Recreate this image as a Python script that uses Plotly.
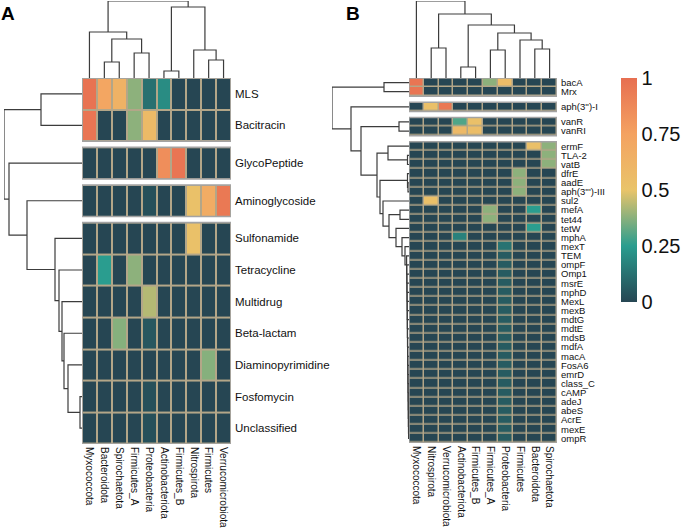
import plotly.graph_objects as go

W, H = 684, 532

# ---- data: panel A (antibiotic class x phylum) ----
a_cols = ["Myxococcota", "Bacteroidota", "Spirochaetota", "Firmicutes_A", "Proteobacteria",
          "Actinobacteriota", "Firmicutes_B", "Nitrospirota", "Firmicutes", "Verrucomicrobiota"]
a_rows = [["MLS", "Bacitracin"],
          ["GlycoPeptide"],
          ["Aminoglycoside"],
          ["Sulfonamide", "Tetracycline", "Multidrug", "Beta-lactam", "Diaminopyrimidine",
           "Fosfomycin", "Unclassified"]]
a_z1 = [[0.98, 0.72, 0.63, 0.38, 0.12, 0.20, 0, 0, 0, 0],
        [0.97, 0, 0, 0.38, 0.57, 0, 0, 0, 0, 0]]
a_z2 = [[0, 0, 0, 0, 0, 0.85, 0.97, 0, 0, 0]]
a_z3 = [[0, 0, 0, 0, 0.03, 0, 0, 0.52, 0.68, 0.95]]
a_z4 = [[0, 0, 0, 0, 0, 0, 0, 0.52, 0, 0],
        [0, 0.25, 0, 0.38, 0, 0, 0, 0, 0, 0],
        [0, 0, 0, 0, 0.43, 0, 0, 0, 0, 0],
        [0, 0, 0.37, 0, 0.05, 0, 0, 0, 0, 0],
        [0, 0, 0, 0, 0, 0, 0, 0, 0.37, 0],
        [0, 0, 0, 0, 0.03, 0, 0, 0, 0, 0],
        [0, 0, 0, 0, 0.03, 0, 0, 0, 0, 0]]
# dendrograms as merge lists (leaves 0..n-1, merge k -> node n+k), heights
a_col_left = [1, 3, 10, 0, 5, 8, 7, 14, 13]
a_col_right = [2, 4, 11, 12, 6, 9, 15, 16, 17]
a_col_height = [16, 25, 39, 46, 7, 18, 28, 71, 77]
a_row_left = [9, 8, 7, 6, 5, 4, 3, 2, 0, 19]
a_row_right = [10, 11, 12, 13, 14, 15, 16, 17, 1, 18]
a_row_height = [2, 14, 18, 20, 23, 27, 55, 73, 41, 78]

# ---- data: panel B (ARG x phylum) ----
b_cols = ["Myxococcota", "Nitrospirota", "Verrucomicrobiota", "Actinobacteriota", "Firmicutes_B",
          "Firmicutes_A", "Proteobacteria", "Firmicutes", "Bacteroidota", "Spirochaetota"]
b_rows = [["bacA", "Mrx"],
          ["aph(3'')-I"],
          ["vanR", "vanRI"],
          ["ermF", "TLA-2", "vatB", "dfrE", "aadE", "aph(3''')-III", "sul2", "mefA", "tet44",
           "tetW", "mphA", "mexT", "TEM", "ompF", "Omp1", "msrE", "mphD", "MexL", "mexB", "mdtG",
           "mdtE", "mdsB", "mdfA", "macA", "FosA6", "emrD", "class_C", "cAMP", "adeJ", "abeS",
           "AcrE", "mexE", "ompR"]]
b_z1 = [[0.97, 0, 0, 0, 0, 0.38, 0.56, 0, 0, 0],
        [0.97, 0, 0, 0, 0, 0, 0, 0, 0, 0]]
b_z2 = [[0, 0.53, 0.95, 0, 0, 0, 0, 0, 0, 0]]
b_z3 = [[0, 0, 0, 0.30, 0.53, 0, 0, 0, 0, 0],
        [0, 0, 0, 0.58, 0.55, 0, 0, 0, 0, 0]]
b_z4 = [[0, 0, 0, 0, 0, 0, 0, 0, 0.53, 0.38],
        [0, 0, 0, 0, 0, 0, 0, 0, 0, 0.38],
        [0, 0, 0, 0, 0, 0, 0, 0, 0, 0.38],
        [0, 0, 0, 0, 0, 0, 0, 0.38, 0, 0],
        [0, 0, 0, 0, 0, 0, 0, 0.38, 0, 0],
        [0, 0, 0, 0, 0, 0, 0, 0.38, 0, 0],
        [0, 0.53, 0, 0, 0, 0, 0, 0, 0, 0],
        [0, 0, 0, 0, 0, 0.38, 0, 0, 0.25, 0],
        [0, 0, 0, 0, 0, 0.38, 0, 0, 0, 0],
        [0, 0, 0, 0, 0, 0, 0, 0, 0.25, 0],
        [0, 0, 0, 0.17, 0, 0, 0, 0, 0, 0],
        [0, 0, 0, 0, 0, 0, 0.13, 0, 0, 0]] + \
       [[0, 0, 0, 0, 0, 0, 0.06, 0, 0, 0] for _ in range(21)]
b_col_left = [3, 5, 8, 1, 7, 11, 10, 13, 0]
b_col_right = [4, 6, 9, 2, 12, 14, 15, 16, 17]
b_col_height = [11, 28, 29, 30, 38, 45, 53, 64, 77]
b_row_left = [0, 3, 6, 5, 9, 8, 12,
              36, 35, 34, 33, 32, 31, 30, 29, 28, 27, 26, 25, 24, 23, 22, 21, 20, 19, 18, 17,
              16, 15, 14, 44, 11, 43, 41, 39, 2, 38]
b_row_right = [1, 4, 7, 40, 10, 42, 13,
               37, 45, 46, 47, 48, 49, 50, 51, 52, 53, 54, 55, 56, 57, 58, 59, 60, 61, 62, 63,
               64, 65, 66, 67, 68, 69, 70, 71, 72, 73]
b_row_height = [25, 10, 1.5, 21, 1, 1.5, 9,
                0.4, 0.5, 0.6, 0.7, 0.8, 0.9, 1.0, 1.1, 1.2, 1.3, 1.4, 1.5, 1.6, 1.7, 1.8, 1.9,
                2.0, 2.1, 2.2, 2.4,
                4, 7, 13, 20, 26, 29, 32, 48, 58, 77]

colorscale = [[0, "#264653"], [0.25, "#2a9d8f"], [0.5, "#e9c46a"], [0.75, "#f4a261"], [1, "#e76f51"]]
cell_line = "#b3a688"
slice_border = "#a3a3a3"
dendro_color = "#3c3c3c"


def fx(px):
    return px / W


def fy(px):
    return 1 - px / H


def dendro(leaf_pos, left, right, height):
    pos = list(leaf_pos)
    hgt = [0] * len(leaf_pos)
    p, h = [], []
    for l, r, z in zip(left, right, height):
        p += [pos[l], pos[l], pos[r], pos[r], None]
        h += [hgt[l], z, z, hgt[r], None]
        pos.append((pos[l] + pos[r]) / 2)
        hgt.append(z)
    return p, h


def slice_offsets(slices, gap):
    offs, n = [], 0
    for k, s in enumerate(slices):
        offs.append(n + k * gap)
        n += len(s)
    return offs


fig = go.Figure()
shapes = []
lay = {}


def panel(rows, cols, zs, ax, top, bottom, gap_px, xgap, colorbar=None):
    nrow = sum(len(s) for s in rows)
    row_px = (bottom - top - gap_px * (len(rows) - 1)) / nrow
    gap = gap_px / row_px
    offs = slice_offsets(rows, gap)
    centers, labels = [], []
    for k, (s, z, o) in enumerate(zip(rows, zs, offs)):
        last = k == len(rows) - 1
        fig.add_trace(go.Heatmap(
            z=z, x0=0, dx=1, y0=o, dy=1, xaxis="x" + ax[0], yaxis="y" + ax[0],
            colorscale=colorscale, zmin=0, zmax=1, xgap=xgap, ygap=xgap,
            showscale=bool(colorbar) and last, colorbar=colorbar if last else None,
            hoverinfo="skip"))
        centers += [o + i for i in range(len(s))]
        labels += s
        box = dict(type="rect", xref="x" + ax[0], yref="y" + ax[0], x0=-0.5, x1=len(cols) - 0.5,
                   y0=o - 0.5, y1=o + len(s) - 0.5)
        shapes.append(dict(box, fillcolor=cell_line, line_width=0, layer="below"))
        shapes.append(dict(box, line=dict(color=slice_border, width=1.5), layer="above"))
    yrange = [centers[-1] + 0.5, -0.5]
    return centers, labels, yrange


def hide(**kw):
    d = dict(visible=False, showgrid=False, zeroline=False, fixedrange=True, automargin=False)
    d.update(kw)
    return d


def build(rows, cols, zs, col_tree, row_tree, ax, hm_left, hm_right, top, bottom,
          dend_left, row_font, col_font, gap_px, xgap, colorbar=None):
    centers, labels, yrange = panel(rows, cols, zs, ax, top, bottom, gap_px, xgap, colorbar)
    hx, hy, cx, cy, rx, ry = ("x" + ax[0], "y" + ax[0], "x" + ax[1], "y" + ax[1], "x" + ax[2], "y" + ax[2])
    key = lambda a: a[0] + "axis" + a[1:]
    lay[key(hx)] = dict(domain=[fx(hm_left), fx(hm_right)], range=[-0.5, len(cols) - 0.5], anchor=hy,
                        tickvals=list(range(len(cols))), ticktext=cols, tickangle=90, ticks="",
                        showgrid=False, zeroline=False, showline=False, automargin=False,
                        tickfont=dict(size=col_font, color="#111"), ticklabelstandoff=2)
    lay[key(hy)] = dict(domain=[fy(bottom), fy(top)], range=yrange, anchor=hx, side="right",
                        tickvals=centers, ticktext=labels, ticks="", showgrid=False, zeroline=False,
                        automargin=False, tickfont=dict(size=row_font, color="#111"),
                        ticklabelstandoff=3)
    # column dendrogram
    p, h = dendro(range(len(cols)), *col_tree)
    fig.add_trace(go.Scatter(x=p, y=h, mode="lines", xaxis=cx, yaxis=cy, hoverinfo="skip",
                             line=dict(color=dendro_color, width=1.2)))
    lay[key(cx)] = hide(domain=[fx(hm_left), fx(hm_right)], range=[-0.5, len(cols) - 0.5], anchor=cy)
    lay[key(cy)] = hide(domain=[fy(top), fy(1)], range=[0, max(col_tree[2])], anchor=cx)
    # row dendrogram
    p, h = dendro(centers, *row_tree)
    fig.add_trace(go.Scatter(x=h, y=p, mode="lines", xaxis=rx, yaxis=ry, hoverinfo="skip",
                             line=dict(color=dendro_color, width=1.2)))
    lay[key(rx)] = hide(domain=[fx(dend_left), fx(hm_left)], range=[max(row_tree[2]), 0], anchor=ry)
    lay[key(ry)] = hide(domain=[fy(bottom), fy(top)], range=yrange, anchor=rx)


build(a_rows, a_cols, [a_z1, a_z2, a_z3, a_z4],
      (a_col_left, a_col_right, a_col_height), (a_row_left, a_row_right, a_row_height),
      ["", "2", "3"], 82, 231, 78, 444, 4, 11.5, 10, 6, 2)

cbar = dict(x=fx(621), xanchor="left", y=fy(78), yanchor="top", len=224 / H, lenmode="fraction",
            thickness=16, thicknessmode="pixels", xpad=0, ypad=0, outlinewidth=0,
            tickvals=[0, 0.25, 0.5, 0.75, 1], ticktext=["0", "0.25", "0.5", "0.75", "1"],
            tickfont=dict(size=20, color="#111"), ticks="")
build(b_rows, b_cols, [b_z1, b_z2, b_z3, b_z4],
      (b_col_left, b_col_right, b_col_height), (b_row_left, b_row_right, b_row_height),
      ["4", "5", "6"], 409, 557, 78, 443, 332, 9.5, 10, 6, 1.5, colorbar=cbar)

fig.update_layout(
    width=W, height=H, margin=dict(l=0, r=0, t=0, b=0, autoexpand=False),
    paper_bgcolor="white", plot_bgcolor="white", showlegend=False,
    font=dict(family="Liberation Sans, Arial, sans-serif", color="#111"),
    shapes=shapes,
    annotations=[
        dict(text="<b>A</b>", x=fx(8), y=fy(14), xref="paper", yref="paper", showarrow=False,
             xanchor="center", yanchor="middle", font=dict(size=19, color="black")),
        dict(text="<b>B</b>", x=fx(353), y=fy(13), xref="paper", yref="paper", showarrow=False,
             xanchor="center", yanchor="middle", font=dict(size=19, color="black")),
    ],
    **lay,
)

# drop the page's default body margin so the figure sits at the window's top-left corner
fig.write_html("out.html", config={"displayModeBar": False},
               post_script="document.body.style.margin='0';")
